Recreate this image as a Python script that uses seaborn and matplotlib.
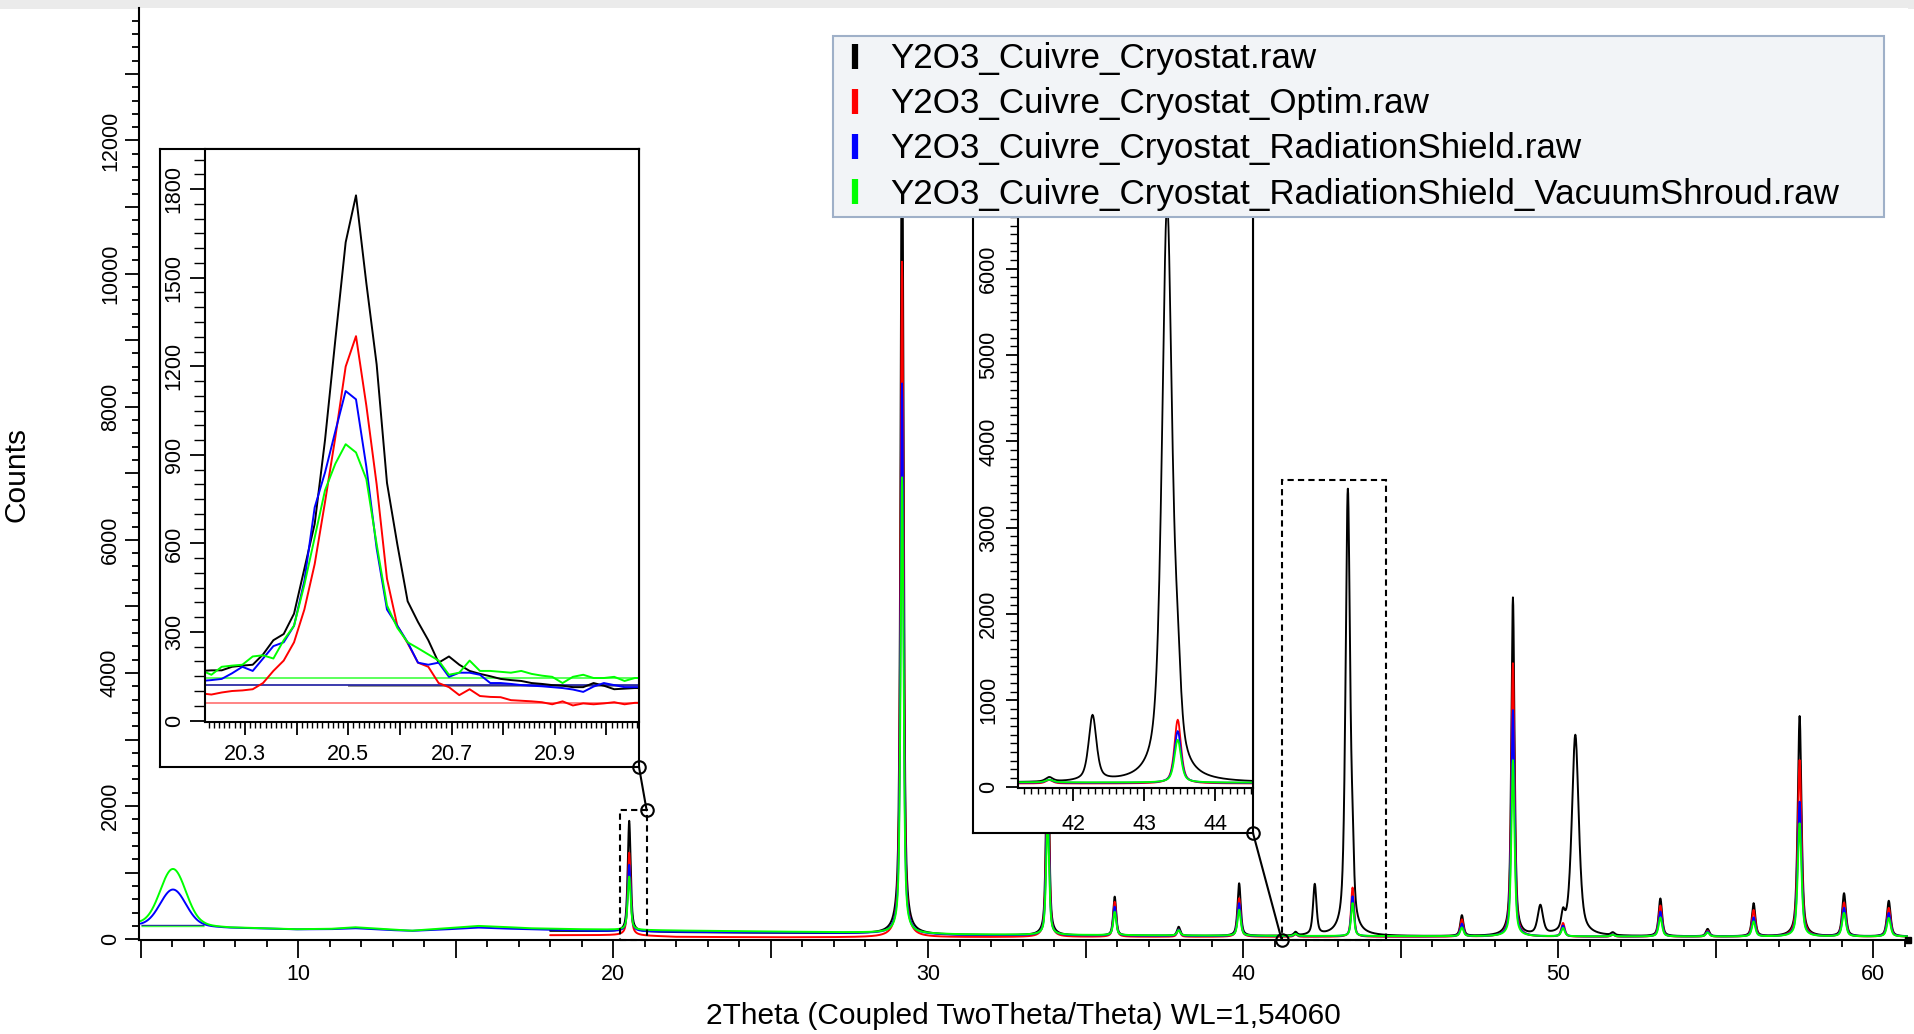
import numpy as np
import pandas as pd
import matplotlib
matplotlib.use("Agg")
import matplotlib.pyplot as plt
from matplotlib.lines import Line2D
from matplotlib.patches import Rectangle
from matplotlib.ticker import MultipleLocator, FuncFormatter
import seaborn as sns

sns.set_style("ticks", rc={
    "axes.edgecolor": "black", "xtick.color": "black", "ytick.color": "black",
    "text.color": "black", "axes.labelcolor": "black",
})
plt.rcParams["font.family"] = ["Liberation Sans", "DejaVu Sans"]

# ------------------------------------------------------------------ scans
SERIES = [
    "Y2O3_Cuivre_Cryostat.raw",
    "Y2O3_Cuivre_Cryostat_Optim.raw",
    "Y2O3_Cuivre_Cryostat_RadiationShield.raw",
    "Y2O3_Cuivre_Cryostat_RadiationShield_VacuumShroud.raw",
]
COLORS = ["#000000", "#ff0000", "#0000ff", "#00ff00"]
SCAN_START = [18.0, 18.0, 5.0, 5.0]
SCAN_END = 61.1
STEP = 0.01

# Y2O3 reflections: position (deg 2theta), FWHM (deg), net height per scan (counts)
Y2O3_POS = [20.51, 29.17, 33.79, 35.92, 37.95, 39.87, 41.66, 43.47, 46.94,
            48.56, 50.15, 51.73, 53.24, 54.74, 56.20, 57.66, 59.07, 60.49]
Y2O3_FWHM = [0.11, 0.11, 0.11, 0.11, 0.12, 0.12, 0.12, 0.11, 0.12,
             0.12, 0.13, 0.13, 0.13, 0.13, 0.13, 0.14, 0.14, 0.14]
NET_CRYOSTAT = [1660, 12700, 3300, 585, 135, 790, 50, 700, 310,
                5080, 240, 40, 565, 110, 495, 3310, 645, 535]
NET_OPTIM = [1240, 10150, 2650, 525, 110, 580, 40, 740, 260,
             4110, 205, 35, 470, 90, 400, 2655, 510, 433]
NET_SHIELD = [1000, 8270, 2150, 435, 95, 495, 35, 600, 190,
              3400, 160, 30, 375, 75, 285, 2025, 428, 353]
NET_SHROUD = [800, 6850, 1800, 350, 80, 390, 30, 495, 130,
              2645, 125, 25, 285, 60, 225, 1700, 353, 278]

# copper reflections seen only by the bare cryostat scan
CU_POS = [42.27, 43.32, 49.43, 50.54]
CU_FWHM = [0.13, 0.17, 0.20, 0.26]
CU_NET = [760, 6670, 435, 3020]

# broad low-angle hump of the shielded scans
HUMP_POS = 6.03
HUMP_FWHM = 0.95
HUMP_NET = [0, 0, 540, 830]

# background levels (counts)
BG_X_FULL = [5.0, 7.0, 7.8, 9.9, 11.0, 11.8, 12.8, 13.6, 14.6, 15.7, 16.5, 17.3,
             18.0, 18.9, 20.5, 22.0, 25.0, 28.0, 31.0, 36.0, 41.0, 46.0, 51.0, 56.0, 61.1]
BG_SHROUD = [240, 212, 180, 150, 155, 180, 150, 128, 160, 200, 185, 165,
             158, 150, 140, 130, 115, 100, 72, 60, 50, 45, 42, 40, 40]
BG_SHIELD = [213, 200, 175, 148, 150, 165, 140, 125, 145, 175, 160, 150,
             140, 128, 118, 110, 100, 90, 62, 52, 45, 42, 40, 40, 40]
BG_X_LATE = [18.0, 20.5, 22.0, 25.0, 28.0, 31.0, 36.0, 41.0, 46.0, 51.0, 56.0, 61.1]
BG_CRYOSTAT = [125, 118, 105, 95, 85, 62, 52, 45, 42, 42, 40, 40]
BG_OPTIM = [60, 60, 35, 28, 28, 30, 35, 35, 35, 35, 35, 35]

# flat background lines under the hump
HUMP_BASE = [None, None, 215, 200]
HUMP_BASE_SPAN = (5.0, 7.0)

# measured points around the (211) reflection, 0.02 deg steps from 20.215
ZOOM_START = 20.215
ZOOM_STEP = 0.02
ZOOM_CRYOSTAT = [168, 170, 170, 182, 186, 189, 224, 272, 293, 362,
                 514, 666, 950, 1290, 1620, 1779, 1482, 1206, 805, 597,
                 404, 334, 272, 196, 217, 189, 168, 158, 150, 141,
                 137, 134, 127, 124, 120, 118, 113, 113, 127, 118,
                 106, 108, 110, 110]
ZOOM_OPTIM = [92, 88, 95, 100, 102, 106, 127, 168, 203, 265,
              376, 530, 740, 960, 1199, 1302, 1067, 800, 480, 321,
              262, 196, 182, 127, 113, 86, 106, 83, 80, 79,
              69, 67, 65, 62, 55, 65, 51, 58, 55, 58,
              62, 55, 60, 60]
ZOOM_SHIELD = [134, 137, 141, 160, 182, 168, 210, 252, 265, 321,
               473, 722, 840, 980, 1116, 1088, 860, 583, 376, 321,
               265, 196, 189, 196, 148, 162, 162, 155, 127, 127,
               124, 120, 118, 116, 113, 110, 105, 97, 115, 127,
               120, 113, 113, 113]
ZOOM_SHROUD = [170, 155, 182, 186, 189, 217, 221, 210, 272, 321,
               460, 620, 780, 870, 936, 908, 818, 597, 390, 314,
               265, 245, 224, 203, 155, 162, 203, 168, 168, 165,
               162, 168, 158, 152, 148, 127, 148, 155, 144, 144,
               148, 134, 144, 144]
ZOOM_BASE = [116, 58, 120, 144]
ZOOM_BASE_FROM = [20.50, 20.20, 20.20, 20.20]
ZOOM_BASE_COLORS = ["#808080", "#ff7070", "#1a1aa0", "#40ff40"]

# view windows
MAIN_XLIM = (4.95, 61.1)
MAIN_YLIM = (-12, 13990)
ZOOM1_XLIM = (20.2226, 21.063)
ZOOM1_YLIM = (-5, 1936)
ZOOM2_XLIM = (41.22, 44.53)
ZOOM2_YLIM = (-10, 6900)


def profile(x, pos, fwhm, eta=0.6):
    u = (x - pos) / (fwhm / 2.0)
    return eta / (1.0 + u ** 2) + (1.0 - eta) * np.exp(-np.log(2.0) * u ** 2)


SCAN_BG_X = [BG_X_LATE, BG_X_LATE, BG_X_FULL, BG_X_FULL]
SCAN_BG = [BG_CRYOSTAT, BG_OPTIM, BG_SHIELD, BG_SHROUD]
SCAN_NET = [NET_CRYOSTAT, NET_OPTIM, NET_SHIELD, NET_SHROUD]

frames = []
for i, name in enumerate(SERIES):
    tt = np.round(np.arange(SCAN_START[i], SCAN_END + STEP / 2, STEP), 2)
    counts = np.interp(tt, SCAN_BG_X[i], SCAN_BG[i])
    for p, w, h in zip(Y2O3_POS, Y2O3_FWHM, SCAN_NET[i]):
        counts = counts + h * profile(tt, p, w)
    if i == 0:
        for p, w, h in zip(CU_POS, CU_FWHM, CU_NET):
            counts = counts + h * profile(tt, p, w)
    counts = counts + HUMP_NET[i] * np.exp(-4 * np.log(2) * ((tt - HUMP_POS) / HUMP_FWHM) ** 2)
    frames.append(pd.DataFrame({"2theta": tt, "counts": counts, "scan": name}))
scans = pd.concat(frames, ignore_index=True)

zoom_tt = np.round(ZOOM_START + ZOOM_STEP * np.arange(len(ZOOM_CRYOSTAT)), 3)
zoom_df = pd.DataFrame({
    "2theta": np.tile(zoom_tt, 4),
    "counts": np.concatenate([ZOOM_CRYOSTAT, ZOOM_OPTIM, ZOOM_SHIELD, ZOOM_SHROUD]),
    "scan": np.repeat(SERIES, len(zoom_tt)),
})

# ------------------------------------------------------------------ layout
W, H = 1915, 1034
fig = plt.figure(figsize=(W / 100, H / 100), dpi=100)
fig.patch.set_facecolor("white")


def px_rect(left, top, right, bottom):
    return [left / W, 1 - bottom / H, (right - left) / W, (bottom - top) / H]


fig.add_artist(Rectangle((0, 1 - 9 / H), 1, 9 / H, transform=fig.transFigure,
                         facecolor="#ebebeb", edgecolor="none", zorder=-1))

TICK_FS = 15.5
LABEL_FS = 21.5


def only_multiples(step, fmt):
    return FuncFormatter(lambda v, _: fmt.format(v) if abs(v / step - round(v / step)) < 1e-6 else "")


# main pattern
ax = fig.add_axes(px_rect(139, 8, 1908, 940))
ax.set_zorder(0)
sns.lineplot(data=scans, x="2theta", y="counts", hue="scan", hue_order=SERIES,
             palette=COLORS, estimator=None, sort=False, legend=False,
             linewidth=1.4, ax=ax)
for base, col in zip(HUMP_BASE, ZOOM_BASE_COLORS):
    if base is not None:
        ax.hlines(base, *HUMP_BASE_SPAN, colors=col, linewidth=1.0, zorder=1.5)
ax.set_xlim(*MAIN_XLIM)
ax.set_ylim(*MAIN_YLIM)
sns.despine(ax=ax)
for s in ("left", "bottom"):
    ax.spines[s].set_linewidth(1.5)
ax.xaxis.set_major_locator(MultipleLocator(5))
ax.xaxis.set_minor_locator(MultipleLocator(1))
ax.xaxis.set_major_formatter(only_multiples(10, "{:.0f}"))
ax.yaxis.set_major_locator(MultipleLocator(1000))
ax.yaxis.set_minor_locator(MultipleLocator(200))
ax.yaxis.set_major_formatter(only_multiples(2000, "{:.0f}"))
ax.tick_params(axis="x", which="major", length=13, width=1.3, labelsize=TICK_FS, pad=4.5)
ax.tick_params(axis="x", which="minor", length=5, width=1.3)
ax.tick_params(axis="y", which="major", length=10, width=1.3, labelsize=TICK_FS,
               labelrotation=90, pad=3)
ax.tick_params(axis="y", which="minor", length=5, width=1.3)
plt.setp(ax.get_yticklabels(), va="center")
ax.set_xlabel("2Theta (Coupled TwoTheta/Theta) WL=1,54060", fontsize=LABEL_FS)
ax.set_ylabel("Counts", fontsize=LABEL_FS)
ax.xaxis.set_label_coords(0.5, -0.0815)
ax.xaxis.label.set_va("center")
ax.yaxis.set_label_coords(-0.069, 0.5)
ax.yaxis.label.set_va("center")
ax.plot([1], [0], marker="s", ms=4, color="black", transform=ax.transAxes, clip_on=False)

# dashed frames marking the enlarged windows
for xl, yl in ((ZOOM1_XLIM, ZOOM1_YLIM), (ZOOM2_XLIM, ZOOM2_YLIM)):
    ax.add_patch(Rectangle((xl[0], yl[0]), xl[1] - xl[0], yl[1] - yl[0], fill=False,
                           edgecolor="black", linestyle=(0, (3, 2)), linewidth=1.5,
                           zorder=3, clip_on=False))


def frame_axes(rect):
    b = fig.add_axes(rect)
    b.set_zorder(1)
    b.set_facecolor("white")
    b.set_xticks([])
    b.set_yticks([])
    for s in b.spines.values():
        s.set_visible(True)
        s.set_linewidth(1.5)
    return b


frame_axes(px_rect(160, 149, 639, 767))
frame_axes(px_rect(973, 191, 1253, 833))

# enlarged (211) window
ax1 = fig.add_axes(px_rect(205, 149, 639, 722))
ax1.set_zorder(2)
for base, start, col in zip(ZOOM_BASE, ZOOM_BASE_FROM, ZOOM_BASE_COLORS):
    ax1.hlines(base, start, ZOOM1_XLIM[1] + 0.05, colors=col, linewidth=1.2, zorder=1.5)
sns.lineplot(data=zoom_df, x="2theta", y="counts", hue="scan", hue_order=SERIES,
             palette=COLORS, estimator=None, sort=False, legend=False,
             linewidth=1.4, ax=ax1)
ax1.set_xlim(*ZOOM1_XLIM)
ax1.set_ylim(*ZOOM1_YLIM)
ax1.set_xlabel("")
ax1.set_ylabel("")
for s in ax1.spines.values():
    s.set_visible(True)
    s.set_linewidth(1.5)
ax1.xaxis.set_major_locator(MultipleLocator(0.1))
ax1.xaxis.set_minor_locator(MultipleLocator(0.01))
ax1.xaxis.set_major_formatter(FuncFormatter(
    lambda v, _: "{:.1f}".format(v) if int(round(v * 10)) % 2 == 1 else ""))
ax1.yaxis.set_major_locator(MultipleLocator(300))
ax1.yaxis.set_minor_locator(MultipleLocator(50))
ax1.tick_params(axis="x", which="major", length=9, width=1.3, labelsize=TICK_FS, pad=7)
ax1.tick_params(axis="x", which="minor", length=4, width=1.0)
ax1.tick_params(axis="y", which="major", length=11, width=1.3, labelsize=TICK_FS,
                labelrotation=90, pad=3.5)
ax1.tick_params(axis="y", which="minor", length=8, width=1.0)
plt.setp(ax1.get_yticklabels(), va="center")

# enlarged 41-44.5 deg window
ax2 = fig.add_axes(px_rect(1018, 191, 1253, 787.5))
ax2.set_zorder(2)
window = scans[(scans["2theta"] >= ZOOM2_XLIM[0] - 0.1) & (scans["2theta"] <= ZOOM2_XLIM[1] + 0.1)]
sns.lineplot(data=window, x="2theta", y="counts", hue="scan", hue_order=SERIES,
             palette=COLORS, estimator=None, sort=False, legend=False,
             linewidth=1.3, ax=ax2)
ax2.set_xlim(*ZOOM2_XLIM)
ax2.set_ylim(*ZOOM2_YLIM)
ax2.set_xlabel("")
ax2.set_ylabel("")
for s in ax2.spines.values():
    s.set_visible(True)
    s.set_linewidth(1.5)
ax2.xaxis.set_major_locator(MultipleLocator(1))
ax2.xaxis.set_minor_locator(MultipleLocator(0.1))
ax2.yaxis.set_major_locator(MultipleLocator(1000))
ax2.yaxis.set_minor_locator(MultipleLocator(100))
ax2.tick_params(axis="x", which="major", length=9, width=1.3, labelsize=TICK_FS, pad=10)
ax2.tick_params(axis="x", which="minor", length=4, width=1.0)
ax2.tick_params(axis="y", which="major", length=9, width=1.3, labelsize=TICK_FS,
                labelrotation=90, pad=4.5)
ax2.tick_params(axis="y", which="minor", length=5.5, width=1.0)
plt.setp(ax2.get_yticklabels(), va="center")


# connectors between the windows and their frames
def to_fig(a, x, y):
    return fig.transFigure.inverted().transform(a.transData.transform((x, y)))


links = [
    ((639 / W, 1 - 767 / H), to_fig(ax, ZOOM1_XLIM[1], ZOOM1_YLIM[1])),
    ((1253 / W, 1 - 833 / H), to_fig(ax, ZOOM2_XLIM[0], ZOOM2_YLIM[0])),
]
for a, b in links:
    fig.add_artist(Line2D([a[0], b[0]], [a[1], b[1]], transform=fig.transFigure,
                          color="black", linewidth=1.5, marker="o", markersize=9,
                          markerfacecolor="none", markeredgewidth=1.5, zorder=3))

# legend
handles = [Line2D([], [], color=c, marker="|", linestyle="None", markersize=18,
                  markeredgewidth=4.5) for c in COLORS]
leg = fig.legend(handles, SERIES, loc="upper left",
                 bbox_to_anchor=(833 / W, 1 - 216 / H, 1051 / W, 180 / H),
                 mode="expand", borderaxespad=0, fontsize=25.2, frameon=True,
                 fancybox=False, framealpha=1, borderpad=0.17, labelspacing=0.35,
                 handlelength=0.9, handletextpad=0.56)
leg.set_zorder(5)
frame = leg.get_frame()
frame.set_facecolor("#f2f4f7")
frame.set_edgecolor("#9fb0c8")
frame.set_linewidth(1.5)

fig.savefig("out.png", dpi=100)
